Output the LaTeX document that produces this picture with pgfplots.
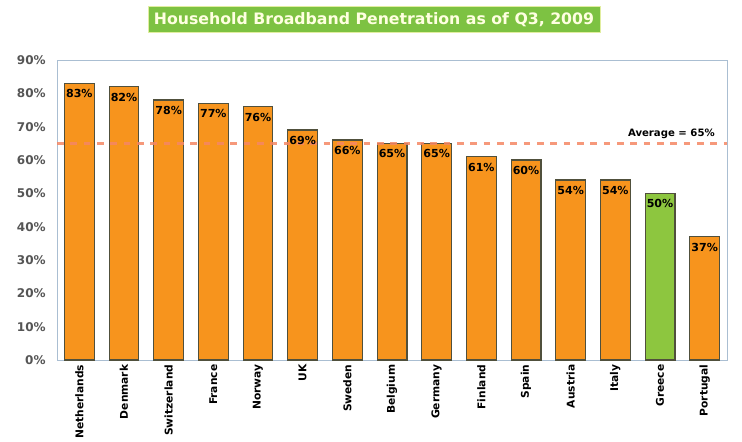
\documentclass[border=0pt]{standalone}
\usepackage{pgfplots}
\pgfplotsset{compat=1.18}
\usepackage{fontspec}
\setmainfont{DejaVu Sans}
\definecolor{barorange}{RGB}{247,148,29}
\definecolor{bargreen}{RGB}{141,198,63}
\definecolor{titlegreen}{RGB}{125,194,66}
\definecolor{titleedge}{RGB}{225,238,160}
\definecolor{titletext}{RGB}{255,255,225}
\definecolor{avgline}{RGB}{245,135,100}
\definecolor{framec}{RGB}{170,190,210}
\definecolor{ticklab}{RGB}{85,85,85}
\definecolor{baredge}{RGB}{80,80,60}
\begin{document}
\begin{tikzpicture}
\useasboundingbox (0,0) rectangle (556.5pt,331.5pt);
\node[fill=titlegreen, draw=titleedge, line width=0.6pt, minimum width=339pt, minimum height=20pt, inner sep=0pt, text=titletext, font=\bfseries\fontsize{11.8}{14}\selectfont] at (280.5pt,317pt) {Household Broadband Penetration as of Q3, 2009};
\begin{axis}[
  at={(42.75pt,61.5pt)}, anchor=south west,
  width=502.5pt, height=225pt, scale only axis,
  xmin=-0.5, xmax=14.5, ymin=0, ymax=90,
  ytick={0,10,...,90},
  yticklabel={\pgfmathprintnumber{\tick}\%},
  /pgf/number format/assume math mode=true,
  axis line style={framec, line width=0.6pt},
  tick style={draw=none},
  xtick={0,...,14},
  xticklabels={Netherlands,Denmark,Switzerland,France,Norway,UK,Sweden,Belgium,Germany,Finland,Spain,Austria,Italy,Greece,Portugal},
  xticklabel style={rotate=90, anchor=east, font=\bfseries\fontsize{8}{9}\selectfont, black},
  yticklabel style={font=\bfseries\fontsize{9}{10}\selectfont, ticklab, xshift=-5pt},
  clip=false,
]
\addplot[ybar, bar width=0.67, bar shift=0pt, fill=barorange, draw=baredge, line width=0.8pt,
  nodes near coords={\pgfmathprintnumber{\pgfplotspointmeta}\%},
  nodes near coords style={anchor=north, font=\bfseries\fontsize{8.3}{9}\selectfont, black, yshift=-1pt}]
coordinates {(0,83) (1,82) (2,78) (3,77) (4,76) (5,69) (6,66) (7,65) (8,65) (9,61) (10,60) (11,54) (12,54) (14,37)};
\addplot[ybar, bar width=0.67, bar shift=0pt, fill=bargreen, draw=baredge, line width=0.8pt,
  nodes near coords={\pgfmathprintnumber{\pgfplotspointmeta}\%},
  nodes near coords style={anchor=north, font=\bfseries\fontsize{8.3}{9}\selectfont, black, yshift=-1pt}]
coordinates {(13,50)};
\addplot[avgline, line width=2.4pt, opacity=0.85, dash pattern=on 5pt off 5pt, forget plot] coordinates {(-0.5,65) (14.5,65)};
\node[anchor=south east, font=\bfseries\fontsize{7.6}{8}\selectfont, black, inner sep=1pt] at (axis cs:14.5,65) [xshift=-8pt, yshift=2pt] {Average = 65\%};
\end{axis}
\end{tikzpicture}
\end{document}
